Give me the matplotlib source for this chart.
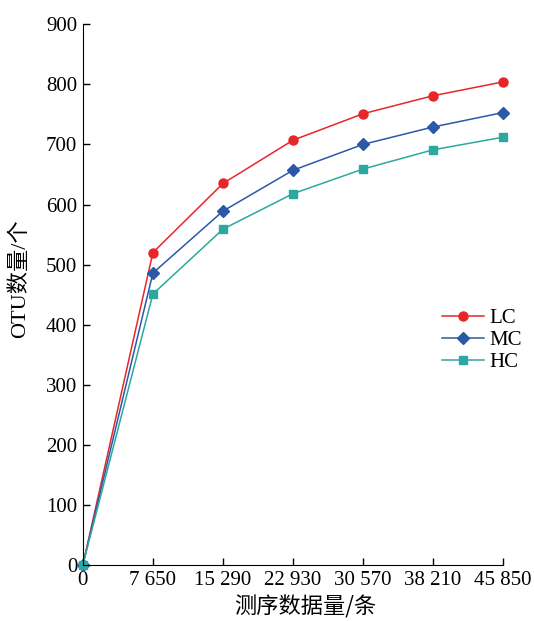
import matplotlib.pyplot as plt

plt.rcParams['font.family'] = ['Liberation Serif', 'Noto Sans CJK SC']

# 测序数据量 (x) 和各组 OTU 数量
depth = [0, 7650, 15290, 22930, 30570, 38210, 45850]
depth_labels = ['0', '7 650', '15 290', '22 930', '30 570', '38 210', '45 850']
lc = [0, 520, 635, 707, 751, 781, 804]
mc = [0, 486, 589, 657, 700, 729, 753]
hc = [0, 451, 559, 618, 659, 691, 712]

fig = plt.figure(figsize=(5.34, 6.21), dpi=100)
ax = fig.add_axes([0.155, 0.090, 0.787, 0.871])

ax.plot(depth, lc, '-o', color='#e8262a', ms=6.5, lw=1.1, label='LC', clip_on=False)
ax.plot(depth, mc, '-D', color='#2c58a8', ms=5.8, lw=1.1, label='MC', clip_on=False)
ax.plot(depth, hc, '-s', color='#2ba89f', ms=6.3, lw=1.1, label='HC', clip_on=False)

ax.set_xlim(0, 45850)
ax.set_ylim(0, 900)
ax.set_xticks(depth)
ax.set_xticklabels(depth_labels)
ax.set_yticks(range(0, 901, 100))
ax.tick_params(direction='in', labelsize=15, length=5, width=1, pad=4)
ax.spines['top'].set_visible(False)
ax.spines['right'].set_visible(False)

ax.set_xlabel('测序数据量/条', fontsize=16, family=['Noto Sans CJK SC'])
ax.set_ylabel('OTU数量/个', fontsize=16)
ax.xaxis.set_label_coords(0.529, -0.055)
ax.yaxis.set_label_coords(-0.125, 0.53)

ax.legend(loc='center left', bbox_to_anchor=(0.81, 0.416), frameon=False,
          fontsize=15, handlelength=2.0, handletextpad=0.3, labelspacing=0.12)

fig.savefig('out.png', dpi=100)
